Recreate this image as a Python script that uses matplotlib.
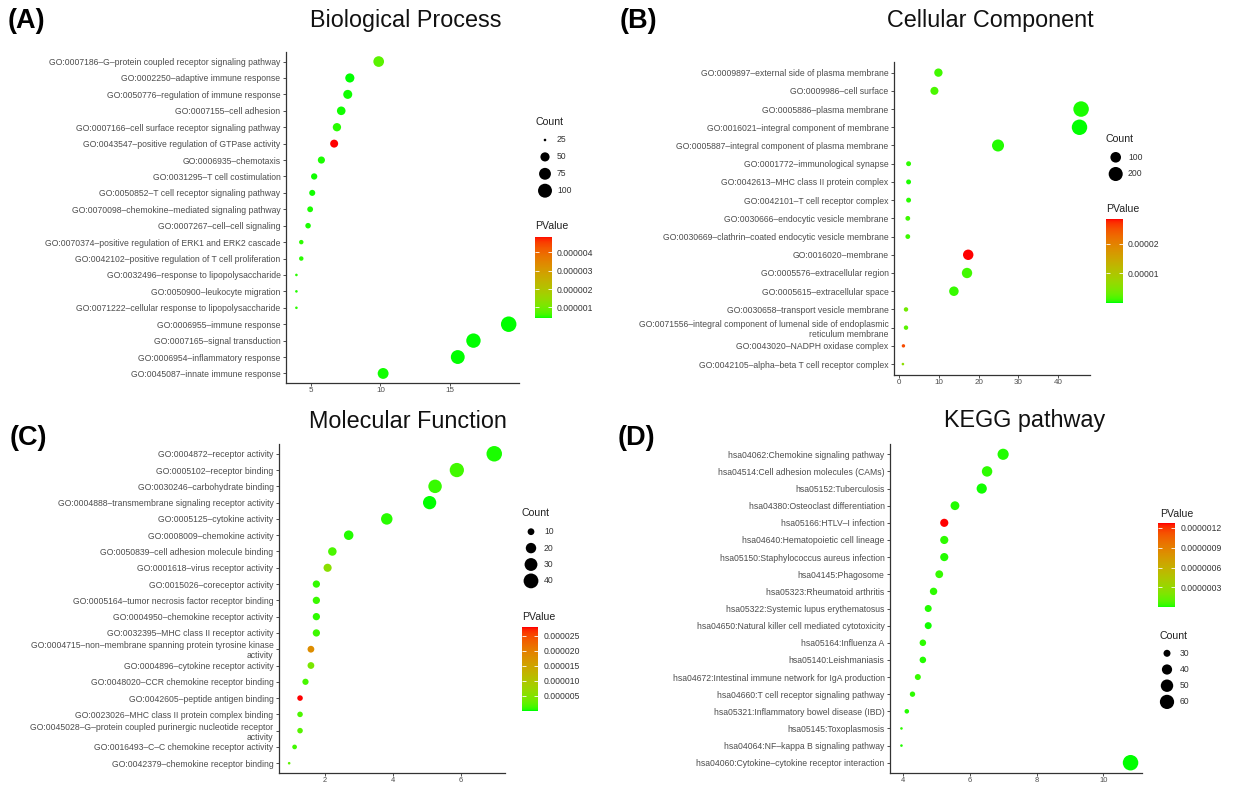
import numpy as np
import matplotlib
matplotlib.use('Agg')
import matplotlib.pyplot as plt
from matplotlib.colors import ListedColormap, Normalize
from matplotlib.cm import ScalarMappable

plt.rcParams['font.family'] = ['Liberation Sans', 'DejaVu Sans']

# ---- data ----
bp_terms = [
    "GO:0007186–G–protein coupled receptor signaling pathway",
    "GO:0002250–adaptive immune response",
    "GO:0050776–regulation of immune response",
    "GO:0007155–cell adhesion",
    "GO:0007166–cell surface receptor signaling pathway",
    "GO:0043547–positive regulation of GTPase activity",
    "GO:0006935–chemotaxis",
    "GO:0031295–T cell costimulation",
    "GO:0050852–T cell receptor signaling pathway",
    "GO:0070098–chemokine–mediated signaling pathway",
    "GO:0007267–cell–cell signaling",
    "GO:0070374–positive regulation of ERK1 and ERK2 cascade",
    "GO:0042102–positive regulation of T cell proliferation",
    "GO:0032496–response to lipopolysaccharide",
    "GO:0050900–leukocyte migration",
    "GO:0071222–cellular response to lipopolysaccharide",
    "GO:0006955–immune response",
    "GO:0007165–signal transduction",
    "GO:0006954–inflammatory response",
    "GO:0045087–innate immune response",
]
bp_x = [9.87, 7.79, 7.64, 7.17, 6.86, 6.66, 5.74, 5.22, 5.08, 4.93,
        4.78, 4.29, 4.29, 3.94, 3.94, 3.94, 19.24, 16.7, 15.57, 10.19]
bp_count = [63, 50, 49, 46, 44, 42, 37, 33, 32, 31,
            30, 27, 27, 25, 25, 25, 122, 106, 99, 65]
bp_p = [7.8e-7, 4.3e-7, 4.4e-7, 4.5e-7, 5.0e-7, 4.85e-6, 4.6e-7, 4.4e-7, 4.5e-7, 4.7e-7,
        4.6e-7, 5.2e-7, 4.9e-7, 5.0e-7, 4.8e-7, 5.1e-7, 4.2e-7, 4.3e-7, 4.2e-7, 4.4e-7]
bp_xticks = [5, 10, 15]
bp_pticks = [1e-6, 2e-6, 3e-6, 4e-6]
bp_sizes = [25, 50, 75, 100]

cc_terms = [
    "GO:0009897–external side of plasma membrane",
    "GO:0009986–cell surface",
    "GO:0005886–plasma membrane",
    "GO:0016021–integral component of membrane",
    "GO:0005887–integral component of plasma membrane",
    "GO:0001772–immunological synapse",
    "GO:0042613–MHC class II protein complex",
    "GO:0042101–T cell receptor complex",
    "GO:0030666–endocytic vesicle membrane",
    "GO:0030669–clathrin–coated endocytic vesicle membrane",
    "GO:0016020–membrane",
    "GO:0005576–extracellular region",
    "GO:0005615–extracellular space",
    "GO:0030658–transport vesicle membrane",
    "GO:0071556–integral component of lumenal side of endoplasmic\nreticulum membrane",
    "GO:0043020–NADPH oxidase complex",
    "GO:0042105–alpha–beta T cell receptor complex",
]
cc_x = [9.9, 8.9, 45.8, 45.4, 24.9, 2.4, 2.4, 2.4, 2.2, 2.2,
        17.4, 17.1, 13.8, 1.75, 1.75, 1.1, 0.97]
cc_count = [54, 49, 252, 250, 137, 13, 13, 13, 12, 12,
            96, 94, 76, 10, 10, 6, 5]
cc_p = [1.2e-6, 1.5e-6, 3e-7, 1e-8, 4e-7, 6e-7, 3e-7, 5e-7, 1.1e-6, 9e-7,
        2.84e-5, 1.2e-6, 8e-7, 3.6e-6, 2.2e-6, 2.55e-5, 6.0e-6]
cc_xticks = [0, 10, 20, 30, 40]
cc_pticks = [1e-5, 2e-5]
cc_sizes = [100, 200]

mf_terms = [
    "GO:0004872–receptor activity",
    "GO:0005102–receptor binding",
    "GO:0030246–carbohydrate binding",
    "GO:0004888–transmembrane signaling receptor activity",
    "GO:0005125–cytokine activity",
    "GO:0008009–chemokine activity",
    "GO:0050839–cell adhesion molecule binding",
    "GO:0001618–virus receptor activity",
    "GO:0015026–coreceptor activity",
    "GO:0005164–tumor necrosis factor receptor binding",
    "GO:0004950–chemokine receptor activity",
    "GO:0032395–MHC class II receptor activity",
    "GO:0004715–non–membrane spanning protein tyrosine kinase\nactivity",
    "GO:0004896–cytokine receptor activity",
    "GO:0048020–CCR chemokine receptor binding",
    "GO:0042605–peptide antigen binding",
    "GO:0023026–MHC class II protein complex binding",
    "GO:0045028–G–protein coupled purinergic nucleotide receptor\nactivity",
    "GO:0016493–C–C chemokine receptor activity",
    "GO:0042379–chemokine receptor binding",
]
mf_x = [6.99, 5.89, 5.25, 5.09, 3.83, 2.71, 2.23, 2.09, 1.76, 1.76,
        1.76, 1.76, 1.60, 1.60, 1.44, 1.28, 1.28, 1.28, 1.12, 0.96]
mf_count = [44, 37, 33, 32, 24, 17, 14, 13, 11, 11,
            11, 11, 10, 10, 9, 8, 8, 8, 7, 6]
mf_p = [3e-7, 1.1e-6, 8e-7, 1e-8, 5e-7, 4e-7, 1.5e-6, 5.6e-6, 7e-7, 9e-7,
        6e-7, 1.0e-6, 1.81e-5, 4.2e-6, 1.4e-6, 2.79e-5, 1.6e-6, 2.0e-6, 1.2e-6, 2.4e-6]
mf_xticks = [2, 4, 6]
mf_pticks = [5e-6, 1e-5, 1.5e-5, 2e-5, 2.5e-5]
mf_sizes = [10, 20, 30, 40]

kegg_terms = [
    "hsa04062:Chemokine signaling pathway",
    "hsa04514:Cell adhesion molecules (CAMs)",
    "hsa05152:Tuberculosis",
    "hsa04380:Osteoclast differentiation",
    "hsa05166:HTLV–I infection",
    "hsa04640:Hematopoietic cell lineage",
    "hsa05150:Staphylococcus aureus infection",
    "hsa04145:Phagosome",
    "hsa05323:Rheumatoid arthritis",
    "hsa05322:Systemic lupus erythematosus",
    "hsa04650:Natural killer cell mediated cytotoxicity",
    "hsa05164:Influenza A",
    "hsa05140:Leishmaniasis",
    "hsa04672:Intestinal immune network for IgA production",
    "hsa04660:T cell receptor signaling pathway",
    "hsa05321:Inflammatory bowel disease (IBD)",
    "hsa05145:Toxoplasmosis",
    "hsa04064:NF–kappa B signaling pathway",
    "hsa04060:Cytokine–cytokine receptor interaction",
]
kegg_x = [7.0, 6.52, 6.36, 5.56, 5.24, 5.24, 5.24, 5.09, 4.92, 4.76,
          4.76, 4.6, 4.6, 4.45, 4.29, 4.12, 3.96, 3.96, 10.81]
kegg_count = [44, 41, 40, 35, 33, 33, 33, 32, 31, 30,
              30, 29, 29, 28, 27, 26, 25, 25, 68]
kegg_p = [2e-8, 3e-8, 1e-8, 2e-8, 1.267e-6, 3e-8, 2e-8, 4e-8, 3e-8, 2e-8,
          1e-8, 3e-8, 2e-8, 4e-8, 3e-8, 2e-8, 3e-8, 2e-8, 1e-9]
kegg_xticks = [4, 6, 8, 10]
kegg_pticks = [3e-7, 6e-7, 9e-7, 1.2e-6]
kegg_sizes = [30, 40, 50, 60]


# ---- green -> red gradient interpolated in Lab (like ggplot) ----
WHITE = np.array([0.95047, 1.0, 1.08883])
M = np.array([[0.4124, 0.3576, 0.1805],
              [0.2126, 0.7152, 0.0722],
              [0.0193, 0.1192, 0.9505]])

def to_lab(rgb):
    c = np.asarray(rgb, float)
    lin = np.where(c <= 0.04045, c / 12.92, ((c + 0.055) / 1.055) ** 2.4)
    t = (M @ lin) / WHITE
    f = np.where(t > (6 / 29) ** 3, np.cbrt(t), t / (3 * (6 / 29) ** 2) + 4 / 29)
    return np.array([116 * f[1] - 16, 500 * (f[0] - f[1]), 200 * (f[1] - f[2])])

def from_lab(lab):
    L, a, b = lab
    fy = (L + 16) / 116
    f = np.array([fy + a / 500, fy, fy - b / 200])
    t = np.where(f > 6 / 29, f ** 3, 3 * (6 / 29) ** 2 * (f - 4 / 29))
    lin = np.linalg.solve(M, t * WHITE)
    lin = np.clip(lin, 0, 1)
    c = np.where(lin <= 0.0031308, 12.92 * lin, 1.055 * lin ** (1 / 2.4) - 0.055)
    return np.clip(c, 0, 1)

lo_lab, hi_lab = to_lab([0, 1, 0]), to_lab([1, 0, 0])
cmap = ListedColormap([from_lab(lo_lab + (hi_lab - lo_lab) * t) for t in np.linspace(0, 1, 256)])

W, H = 1234, 785
TXT = '#4d4d4d'

def fr(l, t, r, b):
    return [l / W, 1 - b / H, (r - l) / W, (b - t) / H]

def dot_px(c, cmin, cmax, dmin=2.6, dmax=15.5):
    r = np.clip((np.asarray(c, float) - cmin) / (cmax - cmin), 0, 1)
    return dmin + (dmax - dmin) * np.sqrt(r)

def area(d):
    return (np.asarray(d) * 0.72) ** 2

fig = plt.figure(figsize=(W / 100, H / 100), dpi=100)
overlay = fig.add_axes([0, 0, 1, 1])
overlay.set_xlim(0, W)
overlay.set_ylim(H, 0)
overlay.axis('off')


def panel(box, terms, x, counts, pv, xticks, xfs=5.8):
    ax = fig.add_axes(fr(*box))
    n = len(terms)
    y = np.arange(n)[::-1]
    norm = Normalize(min(pv), max(pv))
    ax.scatter(x, y, s=area(dot_px(counts, min(counts), max(counts))), c=pv,
               cmap=cmap, norm=norm, edgecolors='none', zorder=3, clip_on=False)
    ax.set_yticks(y)
    ax.set_yticklabels(terms, fontsize=6.2, color=TXT, linespacing=1.15)
    ax.set_ylim(-0.6, n - 0.4)
    pad = 0.05 * (max(x) - min(x))
    ax.set_xlim(min(x) - pad, max(x) + pad)
    ax.set_xticks(xticks)
    ax.set_xticklabels([str(t) for t in xticks], fontsize=xfs, color=TXT)
    for s in ['top', 'right']:
        ax.spines[s].set_visible(False)
    for s in ['left', 'bottom']:
        ax.spines[s].set_color('#333333')
        ax.spines[s].set_linewidth(0.9)
    ax.tick_params(length=2.5, width=0.6, color='#333333', pad=1.3)
    ax.tick_params(axis='x', pad=0.8, length=2.2)
    return norm


def size_legend(title_xy, dot_x, y0, step, label_x, breaks, counts):
    overlay.text(title_xy[0], title_xy[1], 'Count', fontsize=7.6, color='#222222',
                 ha='left', va='center')
    ys = [y0 + i * step for i in range(len(breaks))]
    overlay.scatter([dot_x] * len(breaks), ys,
                    s=area(dot_px(breaks, min(counts), max(counts))), c='black',
                    edgecolors='none')
    for b, yy in zip(breaks, ys):
        overlay.text(label_x, yy, str(b), fontsize=6.2, color='#333333',
                     ha='left', va='center')


def color_legend(title_xy, bar, norm, ticks, fmt):
    overlay.text(title_xy[0], title_xy[1], 'PValue', fontsize=7.6, color='#222222',
                 ha='left', va='center')
    cax = fig.add_axes(fr(*bar))
    cb = fig.colorbar(ScalarMappable(norm=norm, cmap=cmap), cax=cax)
    cb.outline.set_visible(False)
    cb.set_ticks(ticks)
    cb.set_ticklabels([fmt % t for t in ticks])
    cax.tick_params(direction='in', length=3.2, width=0.6, color='white',
                    labelsize=6.2, labelcolor='#333333', left=True, right=True,
                    labelleft=False, labelright=True, pad=3.8)


# (A) Biological Process
n_bp = panel((285.8, 51.7, 519.3, 383.3), bp_terms, bp_x, bp_count, bp_p, bp_xticks)
size_legend((535, 122), 545, 140, 16.9, 557, bp_sizes, bp_count)
color_legend((535, 225.7), (535, 236.7, 551.7, 318), n_bp, bp_pticks, '%.6f')

# (B) Cellular Component
n_cc = panel((894, 61.7, 1090, 375), cc_terms, cc_x, cc_count, cc_p, cc_xticks)
size_legend((1106, 139), 1115.7, 157.3, 16.7, 1128, cc_sizes, cc_count)
color_legend((1106, 209.3), (1106, 219, 1122.7, 302.7), n_cc, cc_pticks, '%.5f')

# (C) Molecular Function
n_mf = panel((278.9, 444, 504.5, 773), mf_terms, mf_x, mf_count, mf_p, mf_xticks, 5.4)
size_legend((521.7, 513), 531, 531.7, 16.4, 544, mf_sizes, mf_count)
color_legend((521.7, 616.7), (521.7, 627.3, 538.3, 710.7), n_mf, mf_pticks, '%.6f')

# (D) KEGG pathway
n_kg = panel((890, 444, 1142, 773), kegg_terms, kegg_x, kegg_count, kegg_p, kegg_xticks, 5.4)
color_legend((1160, 514), (1158, 523.3, 1175, 607.3), n_kg, kegg_pticks, '%.7f')
size_legend((1160, 636), 1167, 653.3, 16.2, 1180, kegg_sizes, kegg_count)

# titles and panel letters
for txt, cx, cy in [('Biological Process', 406, 20), ('Cellular Component', 990, 20),
                    ('Molecular Function', 408, 422), ('KEGG pathway', 1025, 421)]:
    overlay.text(cx, cy, txt, fontsize=16.8, color='#111111', ha='center', va='center')
for txt, lx, cy in [('(A)', 8, 21), ('(B)', 620, 21), ('(C)', 10, 438), ('(D)', 618, 438)]:
    overlay.text(lx, cy, txt, fontsize=19.5, fontweight='bold', color='black',
                 ha='left', va='center')

fig.savefig('out.png', dpi=100)
